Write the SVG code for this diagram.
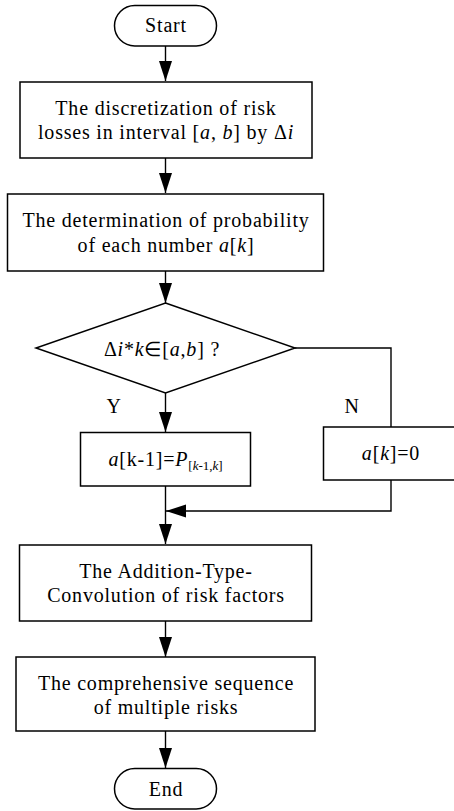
<svg xmlns="http://www.w3.org/2000/svg" width="454" height="811" viewBox="0 0 454 811">
<defs>
<marker id="ah" markerUnits="userSpaceOnUse" markerWidth="22" markerHeight="14" refX="20" refY="6.5" orient="auto">
<path d="M0,0 L20,6.5 L0,13 Z" fill="#000"/>
</marker>
<style>
.n{fill:#fff;stroke:#000;stroke-width:1.5}
.t{font-family:"Liberation Serif","Times New Roman",serif;font-size:20px;letter-spacing:0.8px;fill:#000;text-anchor:middle}
.c{fill:none;stroke:#000;stroke-width:1.4}
</style>
</defs>
<rect width="454" height="811" fill="#fff"/>
<g id="connectors">
<path class="c" d="M165.5,46 V81" marker-end="url(#ah)"/>
<path class="c" d="M165.5,158 V193" marker-end="url(#ah)"/>
<path class="c" d="M165.5,271 V303" marker-end="url(#ah)"/>
<path class="c" d="M165.5,393 V432" marker-end="url(#ah)"/>
<path class="c" d="M295,348 H391 V427"/>
<path class="c" d="M391,480 V511 H166" marker-end="url(#ah)"/>
<path class="c" d="M165.5,486 V544" marker-end="url(#ah)"/>
<path class="c" d="M165.5,621 V657" marker-end="url(#ah)"/>
<path class="c" d="M165.5,731 V768" marker-end="url(#ah)"/>
</g>
<g id="start">
<rect class="n" x="114.5" y="5.5" width="102" height="40.5" rx="20.25"/>
<text class="t" x="166" y="32">Start</text>
</g>
<g id="discretize">
<rect class="n" x="20" y="82" width="292" height="76"/>
<text class="t" x="166" y="115">The discretization of risk</text>
<text class="t" x="166" y="139">losses in interval [<tspan font-style="italic">a</tspan>, <tspan font-style="italic">b</tspan>] by Δ<tspan font-style="italic">i</tspan></text>
</g>
<g id="probability">
<rect class="n" x="7.5" y="194" width="316" height="77"/>
<text class="t" x="166" y="227">The determination of probability</text>
<text class="t" x="166" y="252">of each number <tspan font-style="italic">a</tspan>[<tspan font-style="italic">k</tspan>]</text>
</g>
<g id="decision">
<polygon class="n" points="165.5,303 295,348 165.5,393 36,348"/>
<text class="t" x="162" y="356">Δ<tspan font-style="italic">i</tspan>*<tspan font-style="italic">k</tspan>∈[<tspan font-style="italic">a</tspan>,<tspan font-style="italic">b</tspan>] ?</text>
</g>
<g id="labels">
<text class="t" x="114" y="413">Y</text>
<text class="t" x="352" y="413">N</text>
</g>
<g id="yes-box">
<rect class="n" x="80.5" y="432.5" width="170" height="53.5"/>
<text class="t" x="165.5" y="466"><tspan font-style="italic">a</tspan>[k-1]=<tspan font-style="italic">P</tspan><tspan font-size="13" letter-spacing="0" dy="4">[<tspan font-style="italic">k</tspan>-1,<tspan font-style="italic">k</tspan>]</tspan></text>
</g>
<g id="no-box">
<rect class="n" x="323.5" y="427" width="132" height="53"/>
<text class="t" x="391" y="460"><tspan font-style="italic">a</tspan>[<tspan font-style="italic">k</tspan>]=0</text>
</g>
<g id="convolution">
<rect class="n" x="19.5" y="545" width="292" height="76"/>
<text class="t" x="166" y="578">The Addition-Type-</text>
<text class="t" x="166" y="602">Convolution of risk factors</text>
</g>
<g id="sequence">
<rect class="n" x="16" y="657" width="299" height="74"/>
<text class="t" x="166" y="690">The comprehensive sequence</text>
<text class="t" x="166" y="714">of multiple risks</text>
</g>
<g id="end">
<rect class="n" x="114.5" y="768.5" width="102" height="40.5" rx="20.25"/>
<text class="t" x="166" y="796">End</text>
</g>
</svg>
